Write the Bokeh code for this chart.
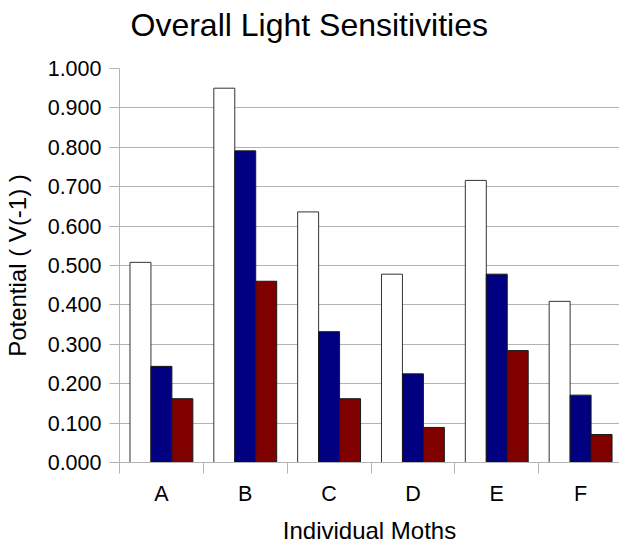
from bokeh.plotting import figure
from bokeh.models import Range1d, FixedTicker, ColumnDataSource, CustomJSTickFormatter, Label
from bokeh.transform import dodge
from bokeh.embed import file_html
from bokeh.resources import INLINE

# Light sensitivity per moth, three series
moths = ["A", "B", "C", "D", "E", "F"]
series_1 = [0.508, 0.950, 0.636, 0.478, 0.716, 0.409]
series_2 = [0.244, 0.791, 0.332, 0.225, 0.478, 0.171]
series_3 = [0.162, 0.460, 0.162, 0.089, 0.284, 0.071]
y_ticks = [0.0, 0.1, 0.2, 0.3, 0.4, 0.5, 0.6, 0.7, 0.8, 0.9, 1.0]

FONT = "Liberation Sans"
GRID = "#b3b3b3"

centers = [i + 0.5 for i in range(len(moths))]
source = ColumnDataSource(dict(x=centers, s1=series_1, s2=series_2, s3=series_3))

p = figure(width=619, height=546, output_backend="svg", toolbar_location=None,
           x_range=Range1d(0, 5.964), y_range=Range1d(0, 1.0),
           min_border_left=118, min_border_right=0, min_border_top=68,
           min_border_bottom=84)
p.outline_line_color = None
p.background_fill_color = "white"
p.border_fill_color = "white"

# chart title as a label in the top panel, so it is not clipped to the frame
title = Label(x=11, y=44, x_units="screen", y_units="screen",
              text="Overall Light Sensitivities", text_font=FONT,
              text_font_size="32px", text_color="black",
              text_baseline="alphabetic", text_align="left")
p.add_layout(title, "above")

w = 0.25
p.vbar(x=dodge("x", -w, range=p.x_range), top="s1", width=w, source=source,
       fill_color="white", line_color="#333333", line_width=1)
p.vbar(x=dodge("x", 0, range=p.x_range), top="s2", width=w, source=source,
       fill_color="#000080", line_color="#1a1a1a", line_width=1)
p.vbar(x=dodge("x", w, range=p.x_range), top="s3", width=w, source=source,
       fill_color="#800000", line_color="#1a1a1a", line_width=1)

# x axis: letters centred, tick marks at category boundaries
xa = p.xaxis[0]
xa.ticker = FixedTicker(ticks=centers, minor_ticks=list(range(len(moths) + 1)))
xa.major_label_overrides = {c: m for c, m in zip(centers, moths)}
xa.major_tick_out = 0
xa.major_tick_in = 0
xa.minor_tick_out = 11
xa.minor_tick_in = 0
xa.minor_tick_line_color = GRID
xa.axis_line_color = GRID
xa.major_label_standoff = 8
xa.major_label_text_font = FONT
xa.major_label_text_font_size = "21.5px"
xa.major_label_text_color = "black"
xa.axis_label = "Individual Moths"
xa.axis_label_text_font = FONT
xa.axis_label_text_font_size = "24px"
xa.axis_label_text_font_style = "normal"
xa.axis_label_text_color = "black"
xa.axis_label_standoff = 8

ya = p.yaxis[0]
ya.ticker = FixedTicker(ticks=y_ticks)
ya.formatter = CustomJSTickFormatter(code="return tick.toFixed(3);")
ya.major_tick_out = 10
ya.major_tick_in = 0
ya.minor_tick_out = 0
ya.minor_tick_in = 0
ya.major_tick_line_color = GRID
ya.axis_line_color = GRID
ya.major_label_standoff = 8
ya.major_label_text_font = FONT
ya.major_label_text_font_size = "21.5px"
ya.major_label_text_color = "black"
ya.axis_label = "Potential ( V(-1) )"
ya.axis_label_text_font = FONT
ya.axis_label_text_font_size = "24px"
ya.axis_label_text_font_style = "normal"
ya.axis_label_text_color = "black"
ya.axis_label_standoff = 14

p.xgrid.grid_line_color = None
p.ygrid.ticker = FixedTicker(ticks=y_ticks)
p.ygrid.grid_line_color = GRID
p.ygrid.grid_line_width = 1

open("out.html", "w").write(file_html(p, INLINE))
